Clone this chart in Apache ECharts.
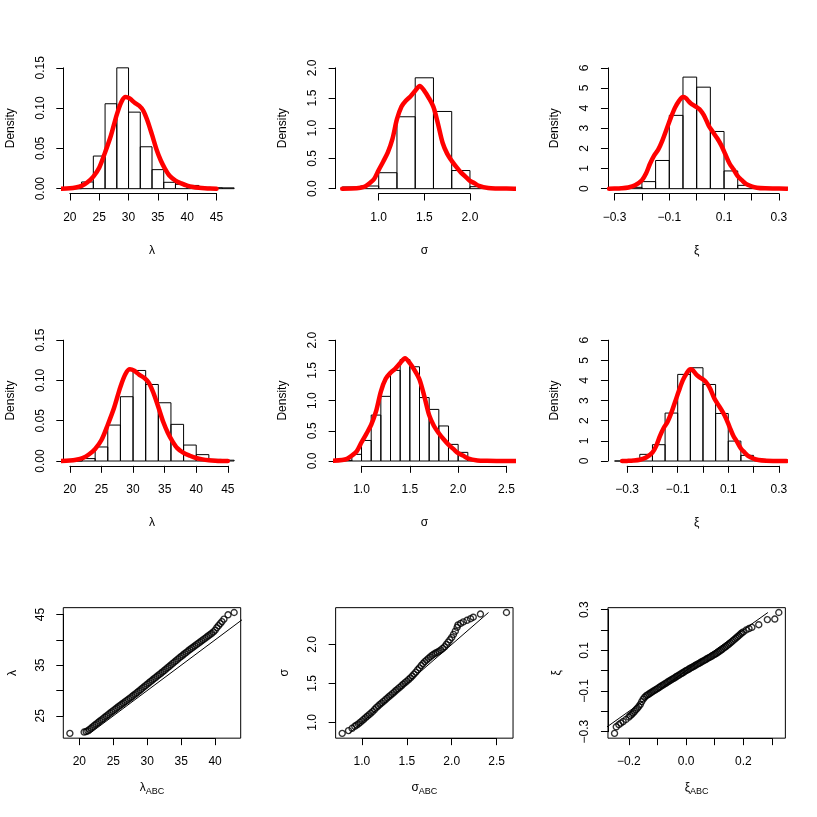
<!DOCTYPE html>
<html>
<head>
<meta charset="utf-8">
<script src="https://cdn.jsdelivr.net/npm/echarts@6/dist/echarts.min.js"></script>
<style>
  html, body { margin: 0; padding: 0; background: #fff; }
  #chart { width: 817px; height: 817px; }
</style>
</head>
<body>
<div id="chart"></div>
<script>
// ---- histogram breaks and bar densities ----
const lamBreaks1 = [20, 22, 24, 26, 28, 30, 32, 34, 36, 38, 40, 42, 44, 46, 48];
const lamHist1 = [0, 0.0083, 0.0405, 0.1054, 0.150, 0.095, 0.052, 0.0236, 0.0079, 0.0054, 0.004, 0.0017, 0.0012, 0.001];
const sigBreaks1 = [0.6, 0.8, 1.0, 1.2, 1.4, 1.6, 1.8, 2.0, 2.2, 2.4];
const sigHist1 = [0.028, 0.044, 0.264, 1.19, 1.835, 1.278, 0.30, 0.033, 0.01];
const xiBreaks1 = [-0.3, -0.25, -0.2, -0.15, -0.1, -0.05, 0, 0.05, 0.1, 0.15, 0.2, 0.25, 0.3];
const xiHist1 = [0, 0.066, 0.35, 1.40, 3.64, 5.54, 5.04, 2.84, 0.88, 0.165, 0.05, 0.02];

const lamBreaks2 = [20, 22, 24, 26, 28, 30, 32, 34, 36, 38, 40, 42, 44, 46];
const lamHist2 = [0, 0.003, 0.0174, 0.0446, 0.0798, 0.1124, 0.095, 0.0723, 0.0455, 0.0198, 0.0079, 0.002, 0.001];
const sigBreaks2 = [0.8, 0.9, 1.0, 1.1, 1.2, 1.3, 1.4, 1.5, 1.6, 1.7, 1.8, 1.9, 2.0, 2.1, 2.2, 2.3, 2.4, 2.5];
const sigHist2 = [0.01, 0.11, 0.34, 0.76, 1.07, 1.50, 1.68, 1.56, 1.05, 0.854, 0.58, 0.275, 0.143, 0.017, 0, 0, 0];
const xiBreaks2 = [-0.35, -0.3, -0.25, -0.2, -0.15, -0.1, -0.05, 0, 0.05, 0.1, 0.15, 0.2, 0.25, 0.3];
const xiHist2 = [0, 0.03, 0.33, 0.81, 2.38, 4.30, 4.63, 3.80, 2.36, 0.99, 0.28, 0.08, 0.02];

// ---- red density curves (same curve in both histogram rows) ----
const lamCurveX = [18.5, 20, 21, 22, 23, 24, 25, 26, 27, 28, 28.8, 29.5, 30.2, 31, 31.8, 32.5, 33.2, 34, 34.8, 35.5, 36.2, 37, 38, 39, 40, 41, 42, 43, 44, 45];
const lamCurveY = [0, 0.0005, 0.0015, 0.0035, 0.008, 0.015, 0.026, 0.045, 0.066, 0.092, 0.108, 0.1138, 0.112, 0.107, 0.103, 0.097, 0.085, 0.067, 0.048, 0.035, 0.025, 0.016, 0.01, 0.0065, 0.0037, 0.002, 0.001, 0.0004, 0.0001, 0];
const sigCurveX = [0.6, 0.7, 0.8, 0.85, 0.9, 0.95, 1.0, 1.05, 1.1, 1.15, 1.2, 1.25, 1.3, 1.35, 1.4, 1.45, 1.5, 1.55, 1.6, 1.65, 1.7, 1.75, 1.8, 1.85, 1.9, 1.95, 2.0, 2.05, 2.1, 2.2, 2.3, 2.4, 2.6];
const sigCurveY = [0, 0.003, 0.015, 0.035, 0.09, 0.16, 0.31, 0.45, 0.6, 0.82, 1.15, 1.36, 1.46, 1.53, 1.62, 1.70, 1.62, 1.50, 1.35, 1.07, 0.76, 0.58, 0.46, 0.36, 0.27, 0.2, 0.13, 0.09, 0.045, 0.01, 0.003, 0.001, 0];
const xiCurveX = [-0.32, -0.3, -0.275, -0.25, -0.225, -0.2, -0.185, -0.17, -0.155, -0.14, -0.125, -0.11, -0.095, -0.08, -0.065, -0.05, -0.04, -0.03, -0.02, -0.01, 0, 0.01, 0.02, 0.03, 0.045, 0.06, 0.075, 0.09, 0.105, 0.12, 0.135, 0.15, 0.165, 0.18, 0.2, 0.22, 0.25, 0.28, 0.33];
const xiCurveY = [0, 0.005, 0.02, 0.06, 0.17, 0.42, 0.75, 1.25, 1.65, 1.95, 2.4, 2.95, 3.5, 4.0, 4.35, 4.55, 4.5, 4.35, 4.22, 4.13, 4.05, 3.95, 3.78, 3.55, 3.1, 2.8, 2.5, 2.15, 1.7, 1.25, 0.95, 0.62, 0.42, 0.24, 0.12, 0.05, 0.015, 0.005, 0];

// ---- Q-Q pairs (ABC quantiles vs reference quantiles), read along the band ----
const qqLamAbc = [18.6, 20.7, 21.0,
  21.25, 21.5, 21.75, 22.0, 22.25, 22.5, 22.75, 23.0, 23.25, 23.5, 23.75, 24.0, 24.25, 24.5, 24.75, 25.0,
  25.25, 25.5, 25.75, 26.0, 26.25, 26.5, 26.75, 27.0, 27.25, 27.5, 27.75, 28.0, 28.25, 28.5, 28.75, 29.0,
  29.25, 29.5, 29.75, 30.0, 30.25, 30.5, 30.75, 31.0, 31.25, 31.5, 31.75, 32.0, 32.25, 32.5, 32.75, 33.0,
  33.25, 33.5, 33.75, 34.0, 34.25, 34.5, 34.75, 35.0, 35.25, 35.5, 35.75, 36.0, 36.25, 36.5, 36.75, 37.0,
  37.25, 37.5, 37.75, 38.0, 38.25, 38.5, 38.75, 39.0, 39.25, 39.5, 39.75, 40.0, 40.25, 40.5, 40.75, 41.0,
  41.3, 41.9, 42.8];
const qqLam = [21.55, 21.8, 21.9,
  22.05, 22.32, 22.6, 22.88, 23.15, 23.42, 23.68, 23.94, 24.2, 24.46, 24.73, 25.0, 25.25, 25.52, 25.78, 26.03,
  26.29, 26.54, 26.8, 27.05, 27.3, 27.55, 27.8, 28.05, 28.3, 28.55, 28.81, 29.07, 29.33, 29.6, 29.87, 30.15,
  30.43, 30.7, 30.97, 31.25, 31.53, 31.8, 32.07, 32.34, 32.6, 32.87, 33.14, 33.4, 33.67, 33.95, 34.23, 34.5,
  34.78, 35.07, 35.35, 35.63, 35.91, 36.2, 36.47, 36.74, 37.0, 37.26, 37.53, 37.8, 38.05, 38.3, 38.55, 38.8,
  39.05, 39.3, 39.55, 39.8, 40.05, 40.3, 40.55, 40.8, 41.05, 41.3, 41.57, 41.9, 42.4, 42.8, 43.2, 43.6,
  44.1, 44.95, 45.4];
const qqSigAbc = [0.78, 0.85, 0.89, 0.92, 0.94,
  0.96, 0.98, 1.00, 1.02, 1.04, 1.06, 1.08, 1.10, 1.12, 1.14, 1.16, 1.18, 1.20, 1.22, 1.24, 1.26, 1.28, 1.30,
  1.32, 1.34, 1.36, 1.38, 1.40, 1.42, 1.44, 1.46, 1.48, 1.50, 1.52, 1.54, 1.56, 1.58, 1.60, 1.62, 1.64, 1.66,
  1.68, 1.70, 1.72, 1.74, 1.76, 1.78, 1.80, 1.82, 1.84, 1.86, 1.88, 1.90, 1.92, 1.94, 1.96, 1.98, 2.00, 2.02,
  2.04, 2.06,
  2.07, 2.10, 2.13, 2.17, 2.21, 2.24, 2.32, 2.61];
const qqSig = [0.86, 0.895, 0.925, 0.95, 0.965,
  0.98, 1.0, 1.02, 1.04, 1.06, 1.08, 1.10, 1.12, 1.14, 1.165, 1.19, 1.21, 1.23, 1.25, 1.27, 1.29, 1.31, 1.33,
  1.35, 1.37, 1.39, 1.41, 1.43, 1.45, 1.47, 1.49, 1.51, 1.53, 1.55, 1.57, 1.595, 1.62, 1.645, 1.675, 1.70, 1.73,
  1.755, 1.78, 1.80, 1.82, 1.84, 1.86, 1.875, 1.89, 1.90, 1.915, 1.93, 1.95, 1.97, 2.00, 2.03, 2.06, 2.09, 2.13,
  2.17, 2.22,
  2.25, 2.27, 2.29, 2.31, 2.33, 2.35, 2.39, 2.41];
const qqXiAbc = [-0.25, -0.244, -0.235, -0.228, -0.22, -0.21,
  -0.200, -0.195, -0.190, -0.185, -0.180, -0.175, -0.170, -0.165, -0.160, -0.155, -0.150, -0.145, -0.140,
  -0.135, -0.130, -0.125, -0.120, -0.115, -0.110, -0.105, -0.100, -0.095, -0.090, -0.085, -0.080, -0.075,
  -0.070, -0.065, -0.060, -0.055, -0.050, -0.045, -0.040, -0.035, -0.030, -0.025, -0.020, -0.015, -0.010,
  -0.005, 0.000, 0.005, 0.010, 0.015, 0.020, 0.025, 0.030, 0.035, 0.040, 0.045, 0.050, 0.055, 0.060, 0.065,
  0.070, 0.075, 0.080, 0.085, 0.090, 0.095, 0.100, 0.105, 0.110, 0.115, 0.120, 0.125, 0.130, 0.135, 0.140,
  0.145, 0.150, 0.155, 0.160, 0.165, 0.170, 0.175, 0.180, 0.185, 0.190, 0.195, 0.200,
  0.21, 0.22, 0.23, 0.254, 0.284, 0.31, 0.324];
const qqXi = [-0.308, -0.276, -0.265, -0.258, -0.25, -0.24,
  -0.228, -0.221, -0.215, -0.208, -0.200, -0.192, -0.184, -0.175, -0.166, -0.152, -0.140, -0.131, -0.124,
  -0.119, -0.115, -0.110, -0.106, -0.101, -0.097, -0.092, -0.088, -0.083, -0.079, -0.074, -0.070, -0.065,
  -0.061, -0.056, -0.052, -0.048, -0.043, -0.039, -0.035, -0.030, -0.026, -0.022, -0.017, -0.013, -0.009,
  -0.004, 0.000, 0.004, 0.008, 0.012, 0.016, 0.020, 0.024, 0.028, 0.032, 0.036, 0.040, 0.044, 0.048, 0.052,
  0.056, 0.060, 0.064, 0.068, 0.072, 0.076, 0.080, 0.084, 0.089, 0.094, 0.099, 0.104, 0.109, 0.114, 0.120,
  0.125, 0.131, 0.137, 0.143, 0.149, 0.155, 0.161, 0.167, 0.173, 0.180, 0.186, 0.191,
  0.2, 0.207, 0.213, 0.226, 0.251, 0.254, 0.286];

// ---- layout (R par(mfrow=c(3,3)) style) ----
const FONT = 'Liberation Sans, Arial, Helvetica, sans-serif';
const PANEL = 817 / 3;
const PLOT = { left: 63.3, top: 63, width: 177.4, height: 130.5 };
const abcName = s => '{a|' + s + '}{b|ABC}';

const panels = [
  { row: 0, col: 0, breaks: lamBreaks1, hist: lamHist1, cx: lamCurveX, cy: lamCurveY, xlim: [20, 48], ylim: [0, 0.15],
    xt: [20, 45, 5], yt: [0, 0.15, 0.05], xd: 0, yd: 2, xName: 'λ', yName: 'Density' },
  { row: 0, col: 1, breaks: sigBreaks1, hist: sigHist1, cx: sigCurveX, cy: sigCurveY, xlim: [0.6, 2.4], ylim: [0, 2],
    xt: [1, 2, 0.5], yt: [0, 2, 0.5], xd: 1, yd: 1, xName: 'σ', yName: 'Density' },
  { row: 0, col: 2, breaks: xiBreaks1, hist: xiHist1, cx: xiCurveX, cy: xiCurveY, xlim: [-0.3, 0.3], ylim: [0, 6],
    xt: [-0.3, 0.3, 0.1], yt: [0, 6, 1], xd: 1, yd: 0, xShow: [-0.3, -0.1, 0.1, 0.3], xName: 'ξ', yName: 'Density' },
  { row: 1, col: 0, breaks: lamBreaks2, hist: lamHist2, cx: lamCurveX, cy: lamCurveY, xlim: [20, 46], ylim: [0, 0.15],
    xt: [20, 45, 5], yt: [0, 0.15, 0.05], xd: 0, yd: 2, xName: 'λ', yName: 'Density' },
  { row: 1, col: 1, breaks: sigBreaks2, hist: sigHist2, cx: sigCurveX, cy: sigCurveY, xlim: [0.8, 2.5], ylim: [0, 2],
    xt: [1, 2.5, 0.5], yt: [0, 2, 0.5], xd: 1, yd: 1, xName: 'σ', yName: 'Density' },
  { row: 1, col: 2, breaks: xiBreaks2, hist: xiHist2, cx: xiCurveX, cy: xiCurveY, xlim: [-0.35, 0.3], ylim: [0, 6],
    xt: [-0.3, 0.3, 0.1], yt: [0, 6, 1], xd: 1, yd: 0, xShow: [-0.3, -0.1, 0.1, 0.3], xName: 'ξ', yName: 'Density' },
  { row: 2, col: 0, qx: qqLamAbc, qy: qqLam, xt: [20, 40, 5], yt: [25, 45, 5], xd: 0, yd: 0,
    yShow: [25, 35, 45], xName: abcName('λ'), yName: 'λ' },
  { row: 2, col: 1, qx: qqSigAbc, qy: qqSig, xt: [1, 2.5, 0.5], yt: [1, 2, 0.5], xd: 1, yd: 1,
    xName: abcName('σ'), yName: 'σ' },
  { row: 2, col: 2, qx: qqXiAbc, qy: qqXi, xt: [-0.2, 0.3, 0.1], yt: [-0.3, 0.3, 0.1], xd: 1, yd: 1,
    xShow: [-0.2, 0, 0.2], yShow: [-0.3, -0.1, 0.1, 0.3], xName: abcName('ξ'), yName: 'ξ' }
];

function usrRange(lim) {
  const d = 0.04 * (lim[1] - lim[0]);
  return [lim[0] - d, lim[1] + d];
}

function fmt(digits, shown) {
  return v => {
    if (Math.abs(v) < 1e-9) v = 0;
    if (shown && !shown.some(s => Math.abs(s - v) < 1e-9)) return '';
    return v.toFixed(digits).replace('-', '\u2212');
  };
}

const textStyle = { color: '#000', fontSize: 12, fontFamily: FONT };

const grid = [], xAxis = [], yAxis = [], series = [];

panels.forEach((p, k) => {
  if (p.qx) {
    p.xlim = [Math.min(...p.qx), Math.max(...p.qx)];
    p.ylim = [Math.min(...p.qy), Math.max(...p.qy)];
  }
  const left = p.col * PANEL + PLOT.left;
  const top = p.row * PANEL + PLOT.top;
  const ux = usrRange(p.xlim), uy = usrRange(p.ylim);
  const px = v => left + (v - ux[0]) / (ux[1] - ux[0]) * PLOT.width;
  const py = v => top + PLOT.height - (v - uy[0]) / (uy[1] - uy[0]) * PLOT.height;
  const isQQ = !!p.qx;

  // data grid = R plot region
  grid.push({
    left: left, top: top, width: PLOT.width, height: PLOT.height,
    containLabel: false, outerBoundsMode: 'none',
    show: isQQ, borderColor: '#000', borderWidth: 1, backgroundColor: 'transparent'
  });
  // tick grid spans first..last tick, axes pushed out to the plot edge
  grid.push({
    left: px(p.xt[0]), width: px(p.xt[1]) - px(p.xt[0]),
    top: py(p.yt[1]), height: py(p.yt[0]) - py(p.yt[1]),
    containLabel: false, outerBoundsMode: 'none', show: false
  });

  const hidden = { show: false };
  xAxis.push({
    type: 'value', gridIndex: 2 * k, min: ux[0], max: ux[1],
    axisLine: { show: false, onZero: false }, axisTick: hidden, axisLabel: hidden, splitLine: hidden,
    name: p.xName, nameLocation: 'middle', nameGap: isQQ ? 41 : 51,
    nameTextStyle: Object.assign({}, textStyle, {
      rich: {
        a: { fontSize: 12, fontFamily: FONT, color: '#000' },
        b: { fontSize: 9, fontFamily: FONT, color: '#000', padding: [8, 0, 0, 0] }
      }
    })
  });
  yAxis.push({
    type: 'value', gridIndex: 2 * k, min: uy[0], max: uy[1],
    axisLine: { show: false, onZero: false }, axisTick: hidden, axisLabel: hidden, splitLine: hidden,
    name: p.yName, nameLocation: 'middle', nameGap: isQQ ? 45 : 47, nameRotate: 90, nameTextStyle: textStyle
  });

  const line = { show: true, onZero: false, lineStyle: { color: '#000', width: 1 } };
  const tick = { show: true, inside: false, length: 7, lineStyle: { color: '#000', width: 1 } };
  xAxis.push({
    type: 'value', gridIndex: 2 * k + 1, min: p.xt[0], max: p.xt[1], interval: p.xt[2],
    offset: (top + PLOT.height) - py(p.yt[0]),
    axisLine: line, axisTick: tick, splitLine: hidden,
    axisLabel: Object.assign({ margin: 18, showMinLabel: true, showMaxLabel: true, formatter: fmt(p.xd, p.xShow) }, textStyle)
  });
  yAxis.push({
    type: 'value', gridIndex: 2 * k + 1, min: p.yt[0], max: p.yt[1], interval: p.yt[2],
    offset: px(p.xt[0]) - left,
    axisLine: line, axisTick: tick, splitLine: hidden,
    axisLabel: Object.assign({ margin: 17, rotate: 90, showMinLabel: true, showMaxLabel: true, formatter: fmt(p.yd, p.yShow) }, textStyle)
  });

  if (!isQQ) {
    const bars = p.hist.map((h, i) => [p.breaks[i], p.breaks[i + 1], h]);
    series.push({
      type: 'custom', xAxisIndex: 2 * k, yAxisIndex: 2 * k, clip: true,
      data: bars, encode: { x: [0, 1], y: 2 },
      renderItem: (params, api) => {
        const a = api.coord([api.value(0), 0]);
        const b = api.coord([api.value(1), api.value(2)]);
        return {
          type: 'rect',
          shape: { x: a[0], y: b[1], width: b[0] - a[0], height: a[1] - b[1] },
          style: { fill: 'none', stroke: '#000', lineWidth: 1 }
        };
      }
    });
    series.push({
      type: 'line', xAxisIndex: 2 * k, yAxisIndex: 2 * k, clip: true,
      data: p.cx.map((x, i) => [x, p.cy[i]]),
      showSymbol: false, symbol: 'none', smooth: 0.3,
      lineStyle: { color: '#ff0000', width: 4.5, cap: 'round', join: 'round' }
    });
  } else {
    series.push({
      type: 'scatter', xAxisIndex: 2 * k, yAxisIndex: 2 * k,
      data: p.qx.map((x, i) => [x, p.qy[i]]),
      symbol: 'circle', symbolSize: 6,
      itemStyle: { color: 'rgba(0,0,0,0)', borderColor: '#000', borderWidth: 1.4 }
    });
    series.push({
      type: 'line', xAxisIndex: 2 * k, yAxisIndex: 2 * k, clip: true,
      data: [[p.ylim[0], p.ylim[0]], [p.ylim[1], p.ylim[1]]],
      symbol: 'none', lineStyle: { color: '#000', width: 1 }
    });
  }
});

const chart = echarts.init(document.getElementById('chart'), null, { renderer: 'canvas' });
chart.setOption({
  animation: false,
  backgroundColor: '#fff',
  grid: grid,
  xAxis: xAxis,
  yAxis: yAxis,
  series: series
});
</script>
</body>
</html>
